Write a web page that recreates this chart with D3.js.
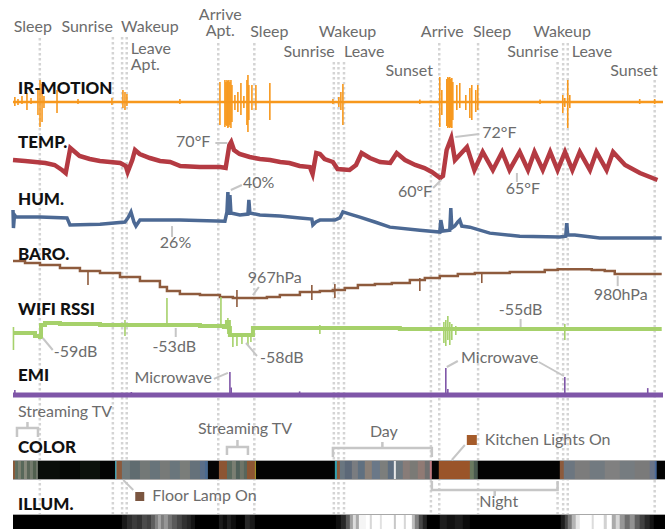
<!DOCTYPE html>
<html><head><meta charset="utf-8">
<script src="https://cdn.jsdelivr.net/npm/d3@7"></script>
<style>
body{margin:0;background:#fff;}
svg{display:block;font-family:Lato,"Open Sans",sans-serif;}
</style></head><body>
<svg id="c" width="665" height="529"></svg>
<script>
// ---------------- DATA (time in hours since start of recording) ----------------
const eventNames = [["Sleep"],["Sunrise"],["Wakeup"],["Leave","Apt."],["Arrive","Apt."],["Sleep"],["Sunrise"],["Wakeup"],["Leave"],["Sunset"],["Arrive"],["Sleep"],["Sunrise"],["Wakeup"],["Leave"],["Sunset"]];
const eventHours = [2.9,10.8,11.8,12.3,22.2,26.1,34.7,35.2,35.8,45.2,46.1,50.3,58.9,59.5,60.0,69.4];

const rowNames = ["IR-MOTION","TEMP.","HUM.","BARO.","WIFI RSSI","EMI","COLOR","ILLUM."];

// IR motion: baseline + spikes (arbitrary units)
const irBaseHours = [0,70.3];
const irBaseValues = [0,0];
const irHours = [0.2,0.54,0.97,1.51,1.95,2.7,2.92,3.14,3.35,4.76,7.03,10.7,11.89,12.11,12.32,18.05,22.38,22.92,23.03,23.14,23.24,23.35,23.46,23.57,23.68,24.0,24.32,24.65,24.97,25.3,25.41,25.51,25.84,26.27,27.78,34.6,35.24,35.46,35.68,44.0,46.16,46.38,46.92,47.03,47.14,47.24,47.35,47.46,47.57,48.0,48.32,48.97,49.41,49.62,50.05,50.27,57.0,59.46,59.68,60.0,60.22,67.78,69.4];
const irHigh = [0.2,0.12,0.24,0.36,0.16,0.48,0.88,0.72,0.24,0.48,0.12,0.16,0.48,0.4,0.32,0.12,0.8,0.88,0.8,0.88,0.84,0.88,0.8,0.88,0.68,0.28,0.4,0.76,0.24,0.88,1.08,0.68,0.68,0.68,0.76,0.12,0.2,0.4,0.72,0.1,1.0,0.48,0.92,1.0,0.96,1.0,0.92,0.96,0.8,0.68,0.76,0.28,0.56,0.68,0.48,0.68,0.1,0.28,0.16,0.88,0.28,0.12,0.12];
const irLow = [-0.16,-0.12,-0.08,-0.32,-0.08,-0.52,-1.0,-0.8,-0.24,-0.44,-0.08,-0.12,-0.24,-0.32,-0.16,-0.08,-0.92,-1.0,-0.92,-0.96,-1.04,-1.0,-0.92,-1.04,-0.8,-0.32,-0.4,-0.52,-0.24,-0.92,-1.2,-0.72,-0.32,-0.32,-0.72,-0.08,-0.2,-0.32,-0.92,-0.08,-1.0,-0.52,-0.96,-1.04,-1.0,-1.04,-1.0,-1.04,-0.72,-0.32,-0.24,-0.32,-0.64,-0.72,-0.4,-0.32,-0.08,-0.44,-0.2,-1.04,-0.24,-0.08,-0.08];

// Temperature (°F)
const tempHours = [0,1.3,2.4,3.5,4.5,5.3,5.7,6.2,6.7,7.2,8.3,9.4,10.5,11.6,12.2,12.4,12.9,13.2,13.7,14.8,15.9,17.0,18.1,20.2,22.4,23.0,23.4,23.6,23.9,24.5,25.6,26.7,27.8,28.9,29.9,31.0,32.1,32.4,32.8,33.2,33.7,34.6,35.1,36.4,37.1,37.7,38.6,39.7,40.8,41.5,42.4,43.5,44.5,45.3,46.2,46.5,46.9,47.4,47.8,48.3,49.1,49.9,50.8,51.9,52.9,53.7,54.8,55.7,56.4,57.3,58.1,58.9,59.7,60.5,61.3,62.4,63.1,64.2,64.9,66.2,67.8,69.7];
const tempF = [65.4,65.1,64.8,64.5,63.9,62.4,61.5,69.0,67.8,66.6,65.7,65.1,64.8,64.5,63.6,61.8,65.4,68.4,67.2,66.0,65.1,64.8,63.6,63.3,63.3,63.0,69.9,70.8,68.4,67.2,66.3,65.7,65.4,64.8,64.5,63.6,63.3,61.2,67.5,67.2,65.7,64.8,62.7,62.4,63.9,67.5,66.0,64.8,64.5,67.5,65.4,63.9,63.0,61.8,60.0,60.6,68.4,72.0,65.4,66.9,69.3,62.4,67.8,62.4,67.8,62.4,67.8,62.4,67.8,62.4,67.8,62.4,67.8,62.4,67.8,62.4,67.8,62.4,67.8,63.9,61.5,59.4];

// Humidity (%)
const humHours = [0,0.05,0.16,0.32,2.92,5.84,6.16,9.41,12.11,12.43,12.76,13.08,13.3,13.73,18.05,22.92,23.14,23.24,23.35,23.46,23.57,24.54,25.41,25.51,25.62,26.7,28.86,31.03,32.32,32.43,32.76,33.19,34.81,35.35,35.68,36.43,37.51,39.14,40.76,44.0,46.16,46.27,46.49,47.24,47.35,47.46,47.78,48.11,48.32,48.54,49.41,51.57,54.81,59.14,59.78,59.89,60.0,60.76,63.46,70.16];
const humValues = [31.6,23.2,29.3,28.3,28.3,27.9,24.6,25.0,26.0,27.9,30.7,26.0,24.1,26.9,26.9,26.4,30.7,40.0,29.3,38.6,30.2,29.3,29.7,36.3,30.2,29.3,28.8,27.9,27.4,24.6,26.0,26.9,26.9,27.9,30.7,29.7,28.3,26.0,23.6,22.2,21.3,26.9,21.8,22.2,32.5,23.2,24.1,26.0,26.9,24.1,23.6,20.8,19.4,19.0,19.4,25.5,19.9,19.9,18.5,18.5];

// Barometric pressure (hPa)
const baroHours = [0,1.3,2.92,5.08,7.24,9.41,11.57,13.73,15.89,16.65,18.05,20.22,22.38,23.78,25.62,27.46,28.86,31.03,33.19,34.59,35.89,37.3,39.14,40.97,42.92,44.54,46.16,48.11,49.95,51.78,53.73,55.35,57.51,58.92,60.76,62.59,64.0,65.08,67.78,70.16];
const baroValues = [984.8,983.8,982.9,981.4,980.0,979.0,977.1,975.2,972.3,970.4,968.9,968.4,967.5,967.0,967.0,967.5,968.4,969.9,970.4,970.8,971.8,973.3,973.7,974.2,975.7,976.6,977.6,978.5,979.0,979.0,979.5,979.5,980.5,980.9,980.9,980.5,980.0,978.5,978.5,978.5];
const baroSpikeHours = [8.11,24.22,32.32,34.81,44.0,50.7];
const baroSpikeHigh = [980.5,970.8,973.3,973.7,976.6,979.0];
const baroSpikeLow = [973.3,962.7,966.0,967.0,970.4,974.2];

// WiFi RSSI (dB)
const wifiHours = [0,1.3,2.38,2.92,3.03,3.46,5.08,9.41,14.81,20.22,22.38,22.81,23.14,23.35,23.46,25.84,25.95,31.03,41.84,70.16];
const wifiValues = [-57,-57,-58.5,-59,-53,-52,-52.5,-53,-53,-53.5,-53.5,-54,-51.5,-54.5,-58,-58,-54.5,-54.5,-55,-55];
const wifiSpikeHours = [0.05,12.11,16.65,22.49,23.24,23.78,24.22,24.76,25.41,25.73,33.19,46.6,46.81,47.03,47.24,47.46,47.89,59.68];
const wifiSpikeHigh = [-54,-50.5,-39.5,-39,-49.5,-57,-57,-57.5,-57,-57,-53,-51.5,-50.5,-48.5,-51.5,-52.5,-53.5,-52.5];
const wifiSpikeLow = [-65.5,-58.5,-53.5,-54,-57.5,-64,-63.5,-62.5,-63.5,-61.5,-57.5,-62,-63.5,-60.5,-63,-60.5,-58,-60.5];

// EMI (relative level)
const emiBaseHours = [0,70.3];
const emiBaseValues = [0,0];
const emiSpikeHours = [0.2,12.8,23.46,23.6,31.0,46.81,47.03,59.68,68.65];
const emiSpikeValues = [0.17,0.1,0.77,0.25,0.12,0.9,0.2,0.6,0.23];

// Color sensor readings (start hour of each reading, colour)
const colorHours = [0,0.22,0.54,0.86,1.19,1.51,1.84,2.16,2.49,2.70,5.08,7.24,9.41,11.03,11.19,11.78,12.65,13.73,14.81,15.89,16.97,18.05,19.14,20.22,20.76,21.08,22.27,23.14,23.68,24.11,24.54,24.97,25.3,26.16,26.27,34.81,35.03,35.35,35.89,36.65,37.3,38.05,38.81,39.68,40.54,41.19,41.41,42.16,42.92,43.78,44.54,45.08,45.3,46.05,49.41,49.84,50.27,59.14,59.57,60.76,62.38,64.0,65.62,67.24,68.86,69.41,69.62,70.5];
const colorValues = ["#8a5a3a","#5e6e5e","#7c8070","#58685a","#86887a","#5a6658","#747a6c","#52604f","#6e7468","#0a0e0a","#050805","#0b110b","#030303","#3b9cae","#8b5a3c","#6f7a7c","#606c70","#737877","#68747a","#777a78","#6a767c","#7a7d7a","#65717a","#5a6e88","#4a6a90","#050505","#8c5533","#5a6a5e","#7a7e72","#50605a","#6e7468","#58665c","#8c5533","#b0a030","#030303","#30a0b0","#8c5a3c","#6a7680","#5c6878","#7a7c80","#607080","#8a8078","#6a7888","#7c7e7c","#5e6e80","#e8e8e8","#6c7880","#887c78","#7a7a76","#907a74","#707070","#c07a80","#050505","#9a5429","#6a7a60","#4a5a50","#030303","#8c5a3c","#6c7680","#7c7c7c","#727a80","#808080","#767c80","#7a7a7a","#6a7488","#4a6a9a","#030303"];

// Illuminance readings (start hour, grey level 0-255)
const illumHours = [0,11.78,12.32,12.86,13.41,13.95,14.49,14.92,15.35,15.68,16.0,16.32,16.76,17.19,17.73,18.27,18.81,19.24,19.68,22.27,22.7,23.14,23.57,24.11,25.08,25.62,26.16,34.92,35.46,36.0,36.43,36.76,37.08,37.41,38.16,38.59,38.81,39.68,39.89,41.19,41.41,42.27,42.49,43.14,43.46,43.89,44.32,44.76,46.16,46.92,47.78,48.65,49.41,59.24,59.68,60.0,60.43,60.86,61.3,62.59,62.81,63.89,64.22,64.76,65.19,65.62,66.16,66.7,67.24,67.78,68.32,68.86,69.3,70.5];
const illumLevels = [0,25,45,60,50,75,65,95,130,165,125,150,115,90,70,50,38,20,0,28,12,32,15,0,40,25,0,15,40,90,160,220,170,245,255,215,255,225,255,200,255,215,255,190,130,70,35,0,30,18,28,12,0,30,70,120,180,230,255,220,255,210,255,170,215,150,110,145,95,65,40,20,0];

// Annotated intervals
const bracketLabels = ["Streaming TV","Streaming TV","Day","Night"];
const bracketStart = [0.43,23.14,34.6,45.3];
const bracketEnd = [2.7,25.41,45.3,58.9];

// ---------------- LAYOUT ----------------
const svg = d3.select("#c");
const W = 665, H = 529;
const x = d3.scaleLinear().domain([0,70.3]).range([13,663]);
const yIR = d3.scaleLinear().domain([-1,1]).range([127,77]);
const yTemp = d3.scaleLinear().domain([60,72]).range([178,138]);
const yHum = d3.scaleLinear().domain([26,40]).range([222,192]);
const yBaro = d3.scaleLinear().domain([967,980]).range([298,271]);
const yWifi = d3.scaleLinear().domain([-59,-53]).range([337,325]);
const yEmi = d3.scaleLinear().domain([0,1]).range([395,365]);

const GREY = "#6c6c6c", LEAD = "#c6c6c6";
const FS = 16;

// event label layout: anchor, dx, baselines, top of dotted line
const evLayout = [
 {a:"middle",dx:-7,ys:[32],top:38},
 {a:"end",dx:0,ys:[32],top:37},
 {a:"start",dx:-1,ys:[32],top:37},
 {a:"start",dx:4,ys:[54,70],top:37},
 {a:"middle",dx:2,ys:[20,36],top:43},
 {a:"start",dx:-4,ys:[37],top:43},
 {a:"end",dx:1,ys:[57],top:62},
 {a:"middle",dx:9,ys:[37],top:62},
 {a:"start",dx:0,ys:[57],top:62},
 {a:"end",dx:2,ys:[76],top:80},
 {a:"middle",dx:3,ys:[37],top:43},
 {a:"start",dx:-5,ys:[37],top:43},
 {a:"end",dx:1,ys:[57],top:62},
 {a:"middle",dx:-1,ys:[37],top:43},
 {a:"start",dx:4,ys:[57],top:43},
 {a:"end",dx:3,ys:[76],top:80}
];

// dotted event lines
const gEv = svg.append("g");
eventHours.forEach((h,i)=>{
  gEv.append("line").attr("x1",x(h)).attr("x2",x(h)).attr("y1",evLayout[i].top).attr("y2",H)
    .attr("stroke","#d4d4d4").attr("stroke-width",2.5).attr("stroke-dasharray","2.5,2.5");
  const L = evLayout[i];
  eventNames[i].forEach((t,k)=>{
    svg.append("text").attr("x",x(h)+L.dx).attr("y",L.ys[k]).attr("text-anchor",L.a)
      .attr("font-size",FS).attr("fill",GREY).text(t);
  });
});

// helpers
function drawLine(hours, vals, ys, color, w, curve){
  const data = hours.map((h,i)=>[h,vals[i]]);
  svg.append("path").datum(data)
    .attr("d", d3.line().x(d=>x(d[0])).y(d=>ys(d[1])).curve(curve||d3.curveLinear))
    .attr("fill","none").attr("stroke",color).attr("stroke-width",w)
    .attr("stroke-linejoin","miter").attr("stroke-linecap","butt");
}
function drawSpikes(hours, hi, lo, ys, color, w){
  svg.append("g").selectAll("line").data(hours).join("line")
    .attr("x1",d=>x(d)).attr("x2",d=>x(d))
    .attr("y1",(d,i)=>ys(hi[i])).attr("y2",(d,i)=>ys(lo[i]))
    .attr("stroke",color).attr("stroke-width",w);
}

// series
const cIR="#f7981d", cT="#b43a42", cH="#4c6994", cB="#8e5b3d", cW="#a6d16b", cE="#7f56a8";
drawLine(irBaseHours, irBaseValues, yIR, cIR, 2.5);
drawSpikes(irHours, irHigh, irLow, yIR, cIR, 1.6);
drawLine(tempHours, tempF, yTemp, cT, 4.5);
drawLine(humHours, humValues, yHum, cH, 3.5);
drawLine(baroHours, baroValues, yBaro, cB, 2.5, d3.curveStepAfter);
drawSpikes(baroSpikeHours, baroSpikeHigh, baroSpikeLow, yBaro, cB, 1.6);
drawLine(wifiHours, wifiValues, yWifi, cW, 4, d3.curveStepAfter);
drawSpikes(wifiSpikeHours, wifiSpikeHigh, wifiSpikeLow, yWifi, cW, 1.6);
drawLine(emiBaseHours, emiBaseValues, yEmi, cE, 5);
drawSpikes(emiSpikeHours, emiSpikeValues, emiSpikeValues.map(()=>0), yEmi, cE, 1.6);

// strips
const colTop=460, colBot=479, illTop=514;
svg.append("g").selectAll("rect").data(colorValues).join("rect")
  .attr("x",(d,i)=>x(colorHours[i])).attr("width",(d,i)=>x(colorHours[i+1])-x(colorHours[i])+0.3)
  .attr("y",colTop).attr("height",colBot-colTop).attr("fill",d=>d);
svg.append("g").selectAll("rect").data(illumLevels).join("rect")
  .attr("x",(d,i)=>x(illumHours[i])).attr("width",(d,i)=>x(illumHours[i+1])-x(illumHours[i])+0.3)
  .attr("y",illTop).attr("height",H-illTop).attr("fill",d=>d3.rgb(d,d,d));
[colTop,colBot,illTop].forEach(yy=>{
  svg.append("line").attr("x1",x(0)).attr("x2",W).attr("y1",yy+0.5).attr("y2",yy+0.5)
   .attr("stroke","#a8a8a8").attr("stroke-width",1);
});

// row labels
const rowBase = [94,148,205,260,315,381,453,510];
rowNames.forEach((t,i)=>{
  svg.append("text").attr("x",18).attr("y",rowBase[i]).attr("font-size",17)
    .attr("font-weight",900).attr("fill","#111").text(t);
});

// annotations anchored on data
function lead(x1,y1,x2,y2){
  svg.append("line").attr("x1",x1).attr("y1",y1).attr("x2",x2).attr("y2",y2)
    .attr("stroke",LEAD).attr("stroke-width",2);
}
function note(t,px,py,anchor){
  svg.append("text").attr("x",px).attr("y",py).attr("text-anchor",anchor||"start")
    .attr("font-size",FS).attr("fill",GREY).text(t);
}
function ann(t, P, l, tx, ty, anchor){
  if(l) lead(P[0]+l[0],P[1]+l[1],P[0]+l[2],P[1]+l[3]);
  note(t,P[0]+tx,P[1]+ty,anchor);
}
ann("70°F",[x(23.4),yTemp(70.5)],[-14,0,-2,0],-19,4,"end");
ann("72°F",[x(47.4),yTemp(72)],[4,-1,28,-4],31,0,"start");
ann("60°F",[x(46.2),yTemp(60)],[-7,10,1,2],-8,19,"end");
ann("65°F",[x(54.5),yTemp(62.4)],[0,3,0,12],6,24,"middle");
ann("40%",[x(23.24),yHum(40)],[3,-2,14,-7],15,-4,"start");
ann("26%",[x(17.2),yHum(26.9)],[0,6,0,17],3.5,28,"middle");
ann("967hPa",[x(25.4),yBaro(967)],[5,-3,11,-11],0,-15,"start");
ann("980hPa",[x(65.4),yBaro(978.5)],[0,2,0,12],3,26,"middle");
ann("-59dB",[x(3.0),yWifi(-59)],[2,1,12,13],13,20,"start");
ann("-53dB",[x(17.6),yWifi(-53)],[0,3,0,12],-1.5,27,"middle");
ann("-58dB",[x(25.2),yWifi(-58)],[0,8,11,21],14,28,"start");
ann("-55dB",[x(54.9),yWifi(-55)],[0,-2,0,-10],0,-14,"middle");
ann("Microwave",[x(23.46),yEmi(0.77)],[-16,7,-2,1],-18,11,"end");
const P1=[x(46.81),yEmi(0.9)], P2=[x(59.68),yEmi(0.6)];
ann("Microwave",P1,[1,-1,12,-7],54,-5,"middle");
lead(P2[0]-26,P2[1]-15,P2[0]-1,P2[1]-1);

// brackets
const brLayout = [
 {y:428,tick:9,up:-6,a:"start",tx:-9.5,ty:417},
 {y:447,tick:8,up:-7,a:"start",tx:-39.5,ty:434},
 {y:448,tick:9,up:-6,a:"middle",tx:1.5,ty:437},
 {y:490,tick:-9,up:6,a:"middle",tx:4,ty:507}
];
bracketLabels.forEach((t,i)=>{
  const L=brLayout[i], x0=x(bracketStart[i]), x1=x(bracketEnd[i]), xc=(x0+x1)/2;
  svg.append("path").attr("d",`M${x0},${L.y+L.tick}V${L.y}H${x1}V${L.y+L.tick}M${xc},${L.y}V${L.y+L.up}`)
    .attr("fill","none").attr("stroke",LEAD).attr("stroke-width",2.5);
  note(t,xc+L.tx,L.ty,L.a);
});

// legend-style notes on the colour strip
const PF=[x(11.6),colBot];
lead(PF[0]+3,PF[1]+1,PF[0]+13,PF[1]+11);
svg.append("rect").attr("x",PF[0]+15).attr("y",PF[1]+13).attr("width",9).attr("height",9).attr("fill","#7b5640");
note("Floor Lamp On",PF[0]+32,PF[1]+22);
const PK=[x(47.46),colTop];
lead(PK[0],PK[1],PK[0]+13,PK[1]-15);
svg.append("rect").attr("x",PK[0]+15).attr("y",PK[1]-25).attr("width",10).attr("height",10).attr("fill","#a55b2a");
note("Kitchen Lights On",PK[0]+33,PK[1]-15);
</script>
</body></html>
